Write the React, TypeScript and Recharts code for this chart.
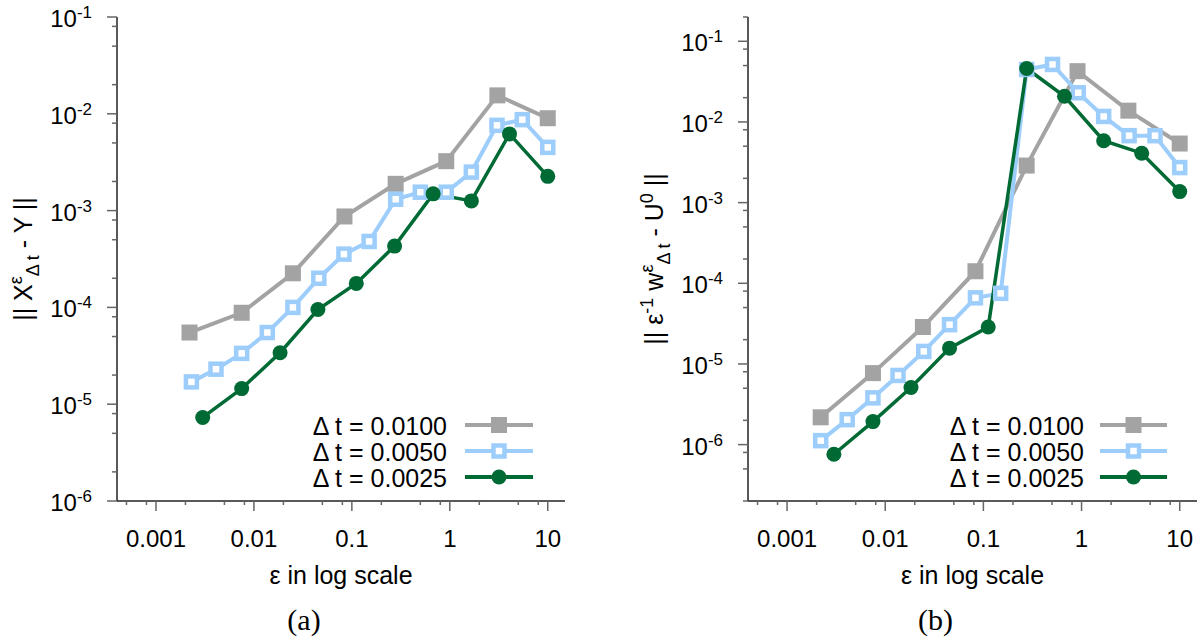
import React from 'react';
import { LineChart, Line, XAxis, YAxis, Legend } from 'recharts';

const SANS = '"Liberation Sans", Arial, Helvetica, sans-serif';
const SERIF = '"Liberation Serif", "DejaVu Serif", serif';

// panel (a): || X^eps_dt - Y ||
const epsA_0100 = [0.0022, 0.0075, 0.025, 0.084, 0.28, 0.92, 3.06, 10];
const errA_0100 = [5.5e-5, 8.8e-5, 2.25e-4, 8.7e-4, 1.89e-3, 3.24e-3, 1.55e-2, 9.0e-3];
const epsA_0050 = [0.0023, 0.0041, 0.0075, 0.0137, 0.025, 0.046, 0.083, 0.15, 0.28, 0.5, 0.92, 1.66, 3.03, 5.5, 10];
const errA_0050 = [1.7e-5, 2.3e-5, 3.35e-5, 5.5e-5, 1.0e-4, 2.0e-4, 3.55e-4, 4.8e-4, 1.31e-3, 1.55e-3, 1.55e-3, 2.5e-3, 7.6e-3, 8.7e-3, 4.5e-3];
const epsA_0025 = [0.003, 0.0075, 0.0185, 0.045, 0.111, 0.273, 0.676, 1.66, 4.07, 10];
const errA_0025 = [7.3e-6, 1.45e-5, 3.4e-5, 9.5e-5, 1.77e-4, 4.3e-4, 1.49e-3, 1.26e-3, 6.2e-3, 2.26e-3];

// panel (b): || eps^-1 w^eps_dt - U^0 ||
const epsB_0100 = [0.0022, 0.0075, 0.0242, 0.083, 0.276, 0.91, 3.0, 10];
const errB_0100 = [2.18e-6, 7.7e-6, 2.87e-5, 1.41e-4, 2.88e-3, 4.26e-2, 1.38e-2, 5.4e-3];
const epsB_0050 = [0.0022, 0.0041, 0.0075, 0.0135, 0.0247, 0.0452, 0.083, 0.15, 0.276, 0.506, 0.925, 1.68, 3.05, 5.6, 10];
const errB_0050 = [1.12e-6, 2.04e-6, 3.8e-6, 7.2e-6, 1.43e-5, 3.07e-5, 6.6e-5, 7.5e-5, 4.47e-2, 5.16e-2, 2.3e-2, 1.17e-2, 6.76e-3, 6.76e-3, 2.72e-3];
const epsB_0025 = [0.003, 0.0075, 0.0183, 0.0452, 0.112, 0.276, 0.67, 1.68, 4.1, 10];
const errB_0025 = [7.6e-7, 1.93e-6, 5.1e-6, 1.57e-5, 2.87e-5, 4.6e-2, 2.08e-2, 5.85e-3, 4.1e-3, 1.37e-3];

const seriesNames = ['Δ t = 0.0100', 'Δ t = 0.0050', 'Δ t = 0.0025'];
const seriesColors = ['#a3a3a3', '#9dcdfb', '#006a35'];
const seriesMarkers = ['filledSquare', 'openSquare', 'circle'];

const xDomain = [0.0004, 15];
const xMajorTicks = [0.001, 0.01, 0.1, 1, 10];
const xMinorTicks = [0.0005, 0.0008, 0.002, 0.005, 0.008, 0.02, 0.05, 0.08, 0.2, 0.5, 0.8, 2, 5, 8];
const yMajorTicks = [1e-6, 1e-5, 1e-4, 1e-3, 1e-2, 1e-1];
const yMinorTicksA = [2e-6, 5e-6, 8e-6, 2e-5, 5e-5, 8e-5, 2e-4, 5e-4, 8e-4, 2e-3, 5e-3, 8e-3, 2e-2, 5e-2, 8e-2];
const yMinorTicksB = [2e-7, 5e-7, 8e-7, ...yMinorTicksA, 0.2];
const yDomainA = [1e-6, 0.1];
const yDomainB = [2e-7, 0.2];

const toPoints = (xs: number[], ys: number[]) => xs.map((x, i) => ({ x, y: ys[i] }));

const panelA = [toPoints(epsA_0100, errA_0100), toPoints(epsA_0050, errA_0050), toPoints(epsA_0025, errA_0025)];
const panelB = [toPoints(epsB_0100, errB_0100), toPoints(epsB_0050, errB_0050), toPoints(epsB_0025, errB_0025)];

const markerShape = (kind: string, color: string, cx: number, cy: number, key?: any) => {
  if (kind === 'filledSquare') return <rect key={key} x={cx - 8} y={cy - 8} width={16} height={16} fill={color} />;
  if (kind === 'openSquare')
    return <rect key={key} x={cx - 5.5} y={cy - 5.5} width={11} height={11} fill="#fff" stroke={color} strokeWidth={4.5} />;
  return <circle key={key} cx={cx} cy={cy} r={7.5} fill={color} />;
};

const renderDot = (kind: string, color: string) => (p: any) => {
  if (p.cx == null || p.cy == null) return <g key={p.index} />;
  return markerShape(kind, color, p.cx, p.cy, p.index);
};

const XTick = (props: any) => {
  const { x, y, payload } = props;
  const major = xMajorTicks.includes(payload.value);
  return (
    <g>
      <line x1={x} x2={x} y1={y} y2={y + (major ? 10 : 4)} stroke="#666" strokeWidth={1.5} />
      {major && (
        <text x={x} y={y + 46} textAnchor="middle" fontSize={24} fontFamily={SANS} fill="#000">
          {payload.value}
        </text>
      )}
    </g>
  );
};

const YTick = (props: any) => {
  const { x, y, payload } = props;
  const v = payload.value;
  const major = yMajorTicks.includes(v);
  return (
    <g>
      <line x1={x - (major ? 10 : 5)} x2={x} y1={y} y2={y} stroke="#666" strokeWidth={1.5} />
      {major && (
        <text x={x - 25} y={y + 10} textAnchor="end" fontSize={24} fontFamily={SANS} fill="#000">
          10
          <tspan fontSize={17} dy={-9}>
            {Math.round(Math.log10(v))}
          </tspan>
        </text>
      )}
    </g>
  );
};

const XTitle = (caption: string) => (props: any) => {
  const vb = props.viewBox || {};
  const cx = vb.x + vb.width / 2;
  return (
    <g>
      <text x={cx} y={vb.y + 83} textAnchor="middle" fontSize={25} fontFamily={SANS} fill="#000">
        ε in log scale
      </text>
      <text x={cx - 37} y={vb.y + 129} textAnchor="middle" fontSize={30} fontFamily={SERIF} fill="#000">
        {caption}
      </text>
    </g>
  );
};

const YTitleA = (props: any) => {
  const vb = props.viewBox || {};
  const tx = vb.x + 32;
  const ty = vb.y + vb.height / 2;
  return (
    <text x={tx} y={ty} transform={`rotate(-90 ${tx} ${ty})`} textAnchor="middle" fontSize={25} fontFamily={SANS} fill="#000">
      || X
      <tspan fontSize={18} dy={-10}>ε</tspan>
      <tspan fontSize={18} dy={17}>Δ t</tspan>
      <tspan dy={-7}> - Y ||</tspan>
    </text>
  );
};

const YTitleB = (props: any) => {
  const vb = props.viewBox || {};
  const tx = vb.x + 63;
  const ty = vb.y + vb.height / 2;
  return (
    <text x={tx} y={ty} transform={`rotate(-90 ${tx} ${ty})`} textAnchor="middle" fontSize={25} fontFamily={SANS} fill="#000">
      || ε
      <tspan fontSize={18} dy={-10}>-1</tspan>
      <tspan dy={10}> w</tspan>
      <tspan fontSize={18} dy={-10}>ε</tspan>
      <tspan fontSize={18} dy={17}>Δ t</tspan>
      <tspan dy={-7}> - U</tspan>
      <tspan fontSize={18} dy={-10}>0</tspan>
      <tspan dy={10}> ||</tspan>
    </text>
  );
};

const LegendBox = ({ textWidth, gap, lineWidth }: { textWidth: number; gap: number; lineWidth: number }) => (
  <div style={{ fontFamily: SANS, fontSize: 25, color: '#000' }}>
    {seriesNames.map((name, i) => (
      <div key={name} style={{ display: 'flex', alignItems: 'center', height: 26.3, lineHeight: '26px' }}>
        <span style={{ width: textWidth, textAlign: 'right', whiteSpace: 'nowrap' }}>{name}</span>
        <svg width={lineWidth} height={26} style={{ marginLeft: gap, display: 'block' }}>
          <line x1={0} x2={lineWidth} y1={12} y2={12} stroke={seriesColors[i]} strokeWidth={4} />
          {markerShape(seriesMarkers[i], seriesColors[i], lineWidth / 2, 12)}
        </svg>
      </div>
    ))}
  </div>
);

type PanelProps = {
  series: { x: number; y: number }[][];
  width: number;
  yAxisWidth: number;
  marginRight: number;
  yDomain: number[];
  yMinor: number[];
  yTitle: (p: any) => React.ReactElement;
  caption: string;
  legendLeft: number;
  legendTextWidth: number;
  legendGap: number;
  legendLine: number;
};

const Panel = ({
  series, width, yAxisWidth, marginRight, yDomain, yMinor, yTitle, caption,
  legendLeft, legendTextWidth, legendGap, legendLine,
}: PanelProps) => (
  <LineChart width={width} height={641} margin={{ top: 17, right: marginRight, bottom: 0, left: 0 }}>
    <XAxis
      dataKey="x"
      type="number"
      scale="log"
      domain={xDomain}
      allowDataOverflow
      ticks={[...xMajorTicks, ...xMinorTicks]}
      interval={0}
      tick={<XTick />}
      tickSize={0}
      tickMargin={0}
      tickLine={false}
      height={140}
      axisLine={{ stroke: '#222', strokeWidth: 1.5 }}
      label={{ content: XTitle(caption) }}
    />
    <XAxis
      xAxisId="top"
      orientation="top"
      type="number"
      scale="log"
      domain={xDomain}
      allowDataOverflow
      height={0}
      tick={false}
      tickLine={false}
      axisLine={{ stroke: '#222', strokeWidth: 1.5 }}
    />
    <YAxis
      type="number"
      scale="log"
      domain={yDomain}
      allowDataOverflow
      ticks={[...yMajorTicks, ...yMinor]}
      interval={0}
      tick={<YTick />}
      tickSize={0}
      tickMargin={0}
      tickLine={false}
      width={yAxisWidth}
      axisLine={{ stroke: '#222', strokeWidth: 1.5 }}
      label={{ content: yTitle }}
    />
    <YAxis
      yAxisId="right"
      orientation="right"
      type="number"
      scale="log"
      domain={yDomain}
      allowDataOverflow
      width={0}
      tick={false}
      tickLine={false}
      axisLine={{ stroke: '#222', strokeWidth: 1.5 }}
    />
    {series.map((data, i) => (
      <Line
        key={seriesNames[i]}
        name={seriesNames[i]}
        data={data}
        dataKey="y"
        type="linear"
        stroke={seriesColors[i]}
        strokeWidth={i === 2 ? 3.5 : 4}
        dot={renderDot(seriesMarkers[i], seriesColors[i])}
        activeDot={false}
        isAnimationActive={false}
      />
    ))}
    <Legend
      layout="vertical"
      align="center"
      verticalAlign="middle"
      wrapperStyle={{ left: legendLeft, top: 412.5, width: legendTextWidth + legendGap + legendLine + 4 }}
      content={() => <LegendBox textWidth={legendTextWidth} gap={legendGap} lineWidth={legendLine} />}
    />
  </LineChart>
);

export default function App() {
  return (
    <div style={{ position: 'absolute', left: 0, top: 0, width: 1198, height: 641, background: '#fff' }}>
      <div style={{ position: 'absolute', left: 0, top: 0 }}>
        <Panel
          series={panelA}
          width={600}
          yAxisWidth={117}
          marginRight={35}
          yDomain={yDomainA}
          yMinor={yMinorTicksA}
          yTitle={YTitleA}
          caption="(a)"
          legendLeft={290}
          legendTextWidth={157}
          legendGap={18}
          legendLine={68}
        />
      </div>
      <div style={{ position: 'absolute', left: 600, top: 0 }}>
        <Panel
          series={panelB}
          width={598}
          yAxisWidth={148}
          marginRight={1}
          yDomain={yDomainB}
          yMinor={yMinorTicksB}
          yTitle={YTitleB}
          caption="(b)"
          legendLeft={330}
          legendTextWidth={154}
          legendGap={16}
          legendLine={67}
        />
      </div>
    </div>
  );
}
